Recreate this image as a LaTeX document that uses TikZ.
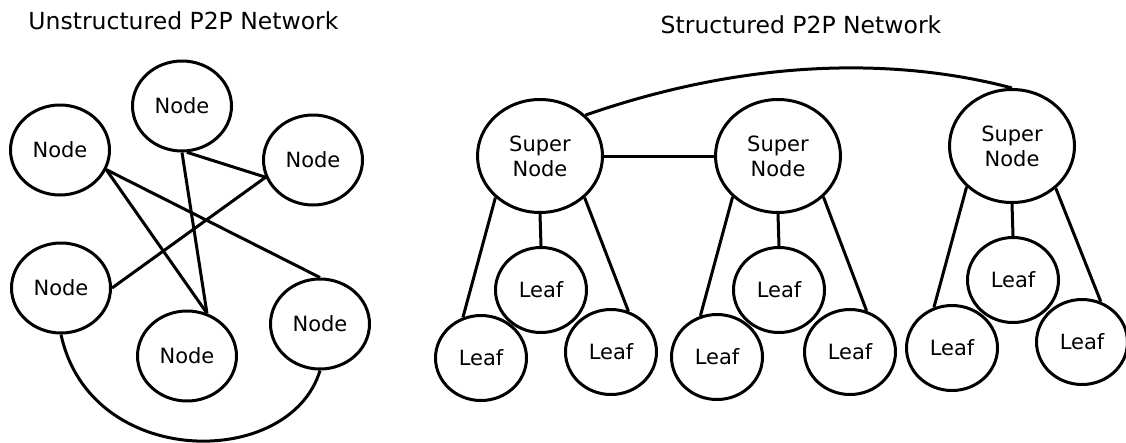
\documentclass[tikz,border=0pt]{standalone}
\usepackage{fontspec}
\setmainfont{DejaVu Sans}
\usetikzlibrary{shapes.geometric}
\begin{document}
\begin{tikzpicture}[x=1pt,y=-1pt,line width=3pt,
  base/.style={ellipse, draw, inner sep=0pt, font=\fontsize{21}{25}\selectfont},
  unode/.style={base, minimum width=99pt, minimum height=90pt},
  snode/.style={base, minimum width=125pt, minimum height=113pt, align=center},
  leafnode/.style={base, minimum width=91pt, minimum height=85pt},
  title/.style={font=\fontsize{23.5}{28}\selectfont, anchor=base, inner sep=0pt},
  link/.style={draw}]
\useasboundingbox (0,0) rectangle (1126,442);
% titles
\node[title] (t1) at (183.5,29) {Unstructured P2P Network};
\node[title] (t2) at (801,33) {Structured P2P Network};
% unstructured
\node[unode] (A) at (60,150) {Node};
\node[unode] (B) at (182,106) {Node};
\node[unode] (C) at (313,160) {Node};
\node[unode] (D) at (61,288) {Node};
\node[unode] (E) at (187,356) {Node};
\node[unode] (F) at (320,324) {Node};
\draw[link] (A.-23) -- (E.65);
\draw[link] (A.-23) -- (F.north);
\draw[link] (B.-90) -- (E.65);
\draw[link] (B.-84) -- (C.200);
\draw[link] (D.east) -- (C.200);
\draw[link] (D.south) .. controls (90,470) and (290,470) .. (F.south);
% structured
\node[snode] (S1) at (540,156) {Super\\Node};
\node[snode] (S2) at (778,156) {Super\\Node};
\node[snode] (S3) at (1012,146) {Super\\Node};
\node[leafnode] (L1a) at (541,290) {Leaf};
\node[leafnode] (L1b) at (481,358) {Leaf};
\node[leafnode] (L1c) at (611,352) {Leaf};
\node[leafnode] (L2a) at (779,290) {Leaf};
\node[leafnode] (L2b) at (717,357) {Leaf};
\node[leafnode] (L2c) at (850,352) {Leaf};
\node[leafnode] (L3a) at (1013,280) {Leaf};
\node[leafnode] (L3b) at (952,348) {Leaf};
\node[leafnode] (L3c) at (1082,342) {Leaf};
\draw[link] (S1.223) -- (L1b.114);
\draw[link] (S1.south) -- (L1a.north);
\draw[link] (S1.-43) -- (L1c.67);
\draw[link] (S1.east) -- (S2.west);
\draw[link] (S1.42) .. controls (770,51) and (918,63) .. (S3.north);
\draw[link] (S2.222) -- (L2b.112);
\draw[link] (S2.south) -- (L2a.north);
\draw[link] (S2.-42) -- (L2c.68);
\draw[link] (S3.222) -- (L3b.114);
\draw[link] (S3.south) -- (L3a.north);
\draw[link] (S3.-44) -- (L3c.65);
\end{tikzpicture}
\end{document}
